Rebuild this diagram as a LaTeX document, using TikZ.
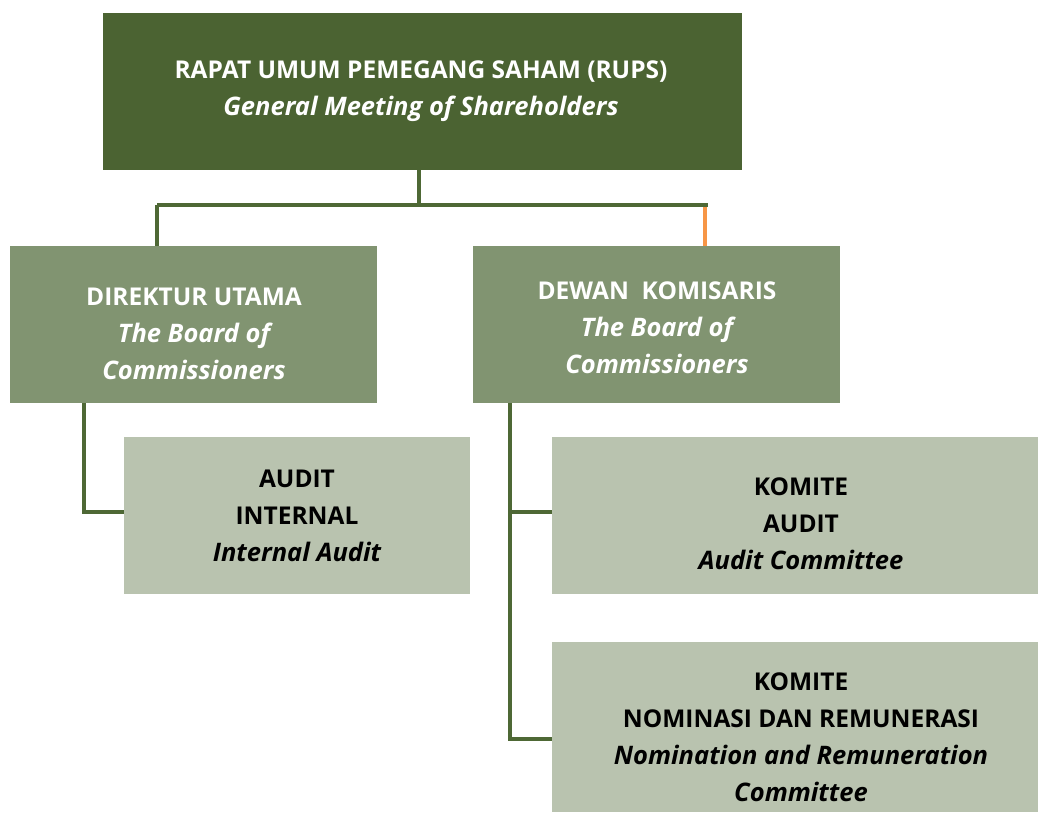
\documentclass[tikz,border=0pt]{standalone}
\usepackage{fontspec}
\setmainfont{Open Sans}
\usetikzlibrary{calc}
\definecolor{darkg}{HTML}{4B6332}
\definecolor{midg}{HTML}{819471}
\definecolor{lightg}{HTML}{B9C3AF}
\definecolor{lineg}{HTML}{4E6835}
\definecolor{orng}{HTML}{F79646}
\newcommand{\itl}{\fontsize{25.5}{37}\selectfont\itshape}
\tikzset{
  box/.style={draw=none, rectangle, inner sep=0pt, outer sep=0pt},
  txt/.style={align=center, font=\fontsize{24.5}{37}\selectfont\bfseries, inner sep=0pt},
  conn/.style={draw=lineg, line width=4pt},
}
\begin{document}
\begin{tikzpicture}[x=1pt,y=-1pt]
\useasboundingbox (0,0) rectangle (1038,814);
% boxes
\node[box, fill=darkg, minimum width=639pt, minimum height=157pt] (rups) at (422.5,91.5) {};
\node[box, fill=midg, minimum width=367pt, minimum height=157pt] (dir) at (193.5,324.5) {};
\node[box, fill=midg, minimum width=367pt, minimum height=157pt] (dk) at (656.5,324.5) {};
\node[box, fill=lightg, minimum width=346pt, minimum height=157pt] (ai) at (297,515.5) {};
\node[box, fill=lightg, minimum width=486pt, minimum height=157pt] (ka) at (795,515.5) {};
\node[box, fill=lightg, minimum width=486pt, minimum height=170pt] (kn) at (795,727) {};
% texts
\node[txt, text=white] (trups) at (421,91) {RAPAT UMUM PEMEGANG SAHAM (RUPS)\\ \itl General Meeting of Shareholders};
\node[txt, text=white] (tdir) at (194,334) {DIREKTUR UTAMA\\ \itl The Board of\\ \itl Commissioners};
\node[txt, text=white] (tdk) at (657,328) {DEWAN\ \ KOMISARIS\\ \itl The Board of\\ \itl Commissioners};
\node[txt, text=black] (tai) at (297,516) {AUDIT\\ INTERNAL\\ \itl Internal Audit};
\node[txt, text=black] (tka) at (801,524) {KOMITE\\ AUDIT\\ \itl Audit Committee};
\node[txt, text=black] (tkn) at (801,737) {KOMITE\\ NOMINASI DAN REMUNERASI\\ \itl Nomination and Remuneration\\ \itl Committee};
% connectors
\coordinate (bar) at (419,205);
\draw[conn] (rups.south -| bar) -- (bar);
\draw[conn] (157,205) -- (708,205);
\draw[conn] (bar -| 157,0) -- (dir.north -| 157,0);
\draw[draw=orng, line width=4pt] (705,207) -- (dk.north -| 705,0);
\draw[conn] (dir.south -| 84,0) -- (84,512) -- (ai.west |- 0,512);
\draw[conn] (dk.south -| 510,0) -- (510,739) -- (kn.west |- 0,739);
\draw[conn] (510,512) -- (ka.west |- 0,512);
\end{tikzpicture}
\end{document}
